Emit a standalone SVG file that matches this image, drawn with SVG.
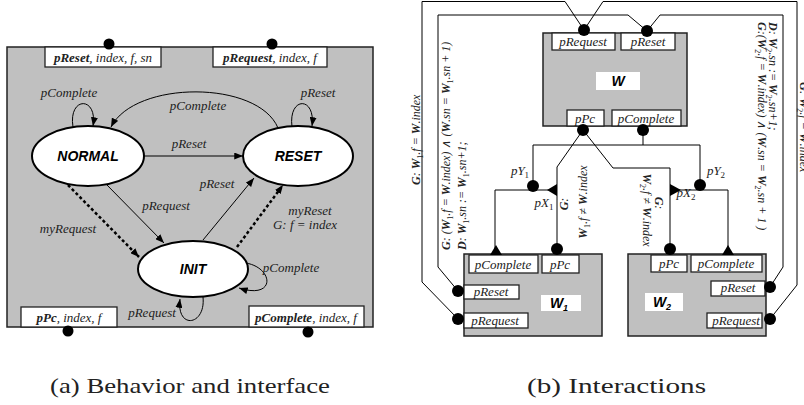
<svg xmlns="http://www.w3.org/2000/svg" width="804" height="405" viewBox="0 0 804 405">
<defs>
<marker id="arr" viewBox="0 0 10 8" refX="10" refY="4" markerWidth="9" markerHeight="7" orient="auto" markerUnits="userSpaceOnUse"><path d="M0,0 L10,4 L0,8 z" fill="#000"/></marker>
<style>
.t{font-family:"Liberation Serif","Times New Roman",serif;font-style:italic;font-size:13px;fill:#222}
.s{font-size:12px}
.b{font-weight:bold}
.nm{font-family:"Liberation Sans",Arial,sans-serif;font-style:italic;font-weight:bold;font-size:14px;fill:#000}
.cap{font-family:"Liberation Serif","Times New Roman",serif;font-size:22px;fill:#222}
.ln{fill:none;stroke:#000;stroke-width:1}
.dl{fill:none;stroke:#000;stroke-width:2.5;stroke-dasharray:3 2.5}
.gray{fill:#c0c0c0;stroke:#222;stroke-width:1.5}
.port{fill:#fff;stroke:#222;stroke-width:1.3}
.st{fill:#fff;stroke:#000;stroke-width:2}
.dot{fill:#000}
.wl{fill:#fff}
</style>
</defs>
<rect width="804" height="405" fill="#fff"/>

<!-- (a) Behavior and interface -->
<g id="behavior-frame"><rect class="gray" x="7" y="47" width="366" height="280"/></g>

<g id="port-preset-if">
<rect class="port" x="45" y="47" width="116" height="20"/>
<text class="t" x="103" y="62" text-anchor="middle"><tspan class="b">pReset</tspan>, index, f, sn</text>
<circle class="dot" cx="109" cy="44" r="5.5"/>
</g>
<g id="port-prequest-if">
<rect class="port" x="213" y="47" width="114" height="20"/>
<text class="t" x="270" y="62" text-anchor="middle"><tspan class="b">pRequest</tspan>, index, f</text>
<circle class="dot" cx="272" cy="44" r="5.5"/>
</g>
<g id="port-ppc-if">
<rect class="port" x="21" y="307" width="96" height="20"/>
<text class="t" x="69" y="322" text-anchor="middle"><tspan class="b">pPc</tspan>, index, f</text>
<circle class="dot" cx="68" cy="331" r="5.5"/>
</g>
<g id="port-pcomplete-if">
<rect class="port" x="249" y="306" width="115" height="21"/>
<text class="t" x="306" y="322" text-anchor="middle"><tspan class="b">pComplete</tspan>, index, f</text>
<circle class="dot" cx="308" cy="332" r="5.5"/>
</g>

<g id="state-normal"><ellipse class="st" cx="88" cy="156" rx="56" ry="30"/><text class="nm" x="88" y="161" text-anchor="middle">NORMAL</text></g>
<g id="state-reset"><ellipse class="st" cx="298" cy="156" rx="55" ry="30"/><text class="nm" x="298" y="161" text-anchor="middle">RESET</text></g>
<g id="state-init"><ellipse class="st" cx="193" cy="269" rx="55" ry="28"/><text class="nm" x="193" y="274" text-anchor="middle">INIT</text></g>

<g id="transitions">
<path class="ln" d="M73,127 C68,96 98,96 93,126" marker-end="url(#arr)"/>
<path class="ln" d="M278,128 C258,80 135,80 111,127" marker-end="url(#arr)"/>
<path class="ln" d="M292,127 C288,96 316,96 312,126" marker-end="url(#arr)"/>
<path class="ln" d="M144,156 L243,156" marker-end="url(#arr)"/>
<path class="ln" d="M106,184 L164,243" marker-end="url(#arr)"/>
<path class="dl" d="M68,185 L139,257" marker-end="url(#arr)"/>
<path class="ln" d="M203,240 L254,178" marker-end="url(#arr)"/>
<path class="dl" d="M237,247 L283,185" marker-end="url(#arr)"/>
<path class="ln" d="M246,263 C274,268 276,300 239,288" marker-end="url(#arr)"/>
<path class="ln" d="M203,297 C206,326 176,330 180,299" marker-end="url(#arr)"/>
<text class="t" x="69" y="97" text-anchor="middle">pComplete</text>
<text class="t" x="198" y="110" text-anchor="middle">pComplete</text>
<text class="t" x="318" y="97" text-anchor="middle">pReset</text>
<text class="t" x="189" y="148" text-anchor="middle">pReset</text>
<text class="t" x="166" y="210" text-anchor="middle">pRequest</text>
<text class="t" x="68" y="233" text-anchor="middle">myRequest</text>
<text class="t" x="217" y="188" text-anchor="middle">pReset</text>
<text class="t" x="310" y="215" text-anchor="middle">myReset</text>
<text class="t" x="305" y="229" text-anchor="middle">G: f = index</text>
<text class="t" x="291" y="272" text-anchor="middle">pComplete</text>
<text class="t" x="152" y="317" text-anchor="middle">pRequest</text>
</g>

<!-- (b) Interactions -->
<g id="node-W">
<rect class="gray" x="543" y="33" width="144" height="93"/>
<rect class="port" x="552" y="33" width="63" height="17"/>
<text class="t" x="583" y="46" text-anchor="middle">pRequest</text>
<rect class="port" x="621" y="33" width="54" height="17"/>
<text class="t" x="648" y="46" text-anchor="middle">pReset</text>
<rect class="wl" x="596" y="72" width="44" height="18"/>
<text class="nm" x="618" y="86" text-anchor="middle">W</text>
<rect class="port" x="567" y="110" width="37" height="16"/>
<text class="t" x="585" y="123" text-anchor="middle">pPc</text>
<rect class="port" x="612" y="110" width="69" height="16"/>
<text class="t" x="646" y="123" text-anchor="middle">pComplete</text>
<circle class="dot" cx="584" cy="30" r="6"/>
<circle class="dot" cx="647" cy="31" r="6"/>
<circle class="dot" cx="583" cy="130" r="6"/>
<circle class="dot" cx="643" cy="130" r="6"/>
</g>

<g id="node-W1">
<rect class="gray" x="464" y="254" width="138" height="82"/>
<rect class="port" x="469" y="255" width="69" height="18"/>
<text class="t" x="503" y="269" text-anchor="middle">pComplete</text>
<rect class="port" x="542" y="255" width="37" height="18"/>
<text class="t" x="560" y="269" text-anchor="middle">pPc</text>
<rect class="port" x="464" y="285" width="55" height="14"/>
<text class="t" x="491" y="296" text-anchor="middle">pReset</text>
<rect class="port" x="464" y="313" width="64" height="15"/>
<text class="t" x="495" y="325" text-anchor="middle">pRequest</text>
<rect class="wl" x="541" y="295" width="40" height="16"/>
<text class="nm" x="559" y="308" text-anchor="middle">W<tspan font-size="9" dy="3">1</tspan></text>
<circle class="dot" cx="458" cy="291" r="6"/>
<circle class="dot" cx="458" cy="319" r="6"/>
<circle class="dot" cx="557" cy="249" r="6"/>
<path class="dot" d="M490,255 L502,255 L496,245 z"/>
</g>

<g id="node-W2">
<rect class="gray" x="628" y="254" width="138" height="82"/>
<rect class="port" x="651" y="255" width="36" height="17"/>
<text class="t" x="669" y="268" text-anchor="middle">pPc</text>
<rect class="port" x="691" y="255" width="71" height="17"/>
<text class="t" x="726" y="268" text-anchor="middle">pComplete</text>
<rect class="port" x="711" y="281" width="54" height="15"/>
<text class="t" x="738" y="292" text-anchor="middle">pReset</text>
<rect class="port" x="707" y="313" width="55" height="15"/>
<text class="t" x="736" y="325" text-anchor="middle">pRequest</text>
<rect class="wl" x="645" y="293" width="38" height="18"/>
<text class="nm" x="662" y="307" text-anchor="middle">W<tspan font-size="9" dy="3">2</tspan></text>
<circle class="dot" cx="770" cy="287" r="6"/>
<circle class="dot" cx="770" cy="319" r="6"/>
<circle class="dot" cx="670" cy="249" r="6"/>
<path class="dot" d="M722,255 L734,255 L728,245 z"/>
</g>

<g id="junction-pY1"><circle class="dot" cx="533" cy="186" r="6"/><text class="t" x="520" y="175" text-anchor="middle">pY<tspan font-style="normal" font-size="9" dy="3">1</tspan></text></g>
<g id="junction-pX1"><path class="dot" d="M557,184 L557,196 L547,190 z"/><text class="t" x="544" y="207" text-anchor="middle">pX<tspan font-style="normal" font-size="9" dy="3">1</tspan></text></g>
<g id="junction-pY2"><circle class="dot" cx="700" cy="185" r="6"/><text class="t" x="716" y="175" text-anchor="middle">pY<tspan font-style="normal" font-size="9" dy="3">2</tspan></text></g>
<g id="junction-pX2"><path class="dot" d="M670,184 L670,196 L681,190 z"/><text class="t" x="686" y="197" text-anchor="middle">pX<tspan font-style="normal" font-size="9" dy="3">2</tspan></text></g>

<g id="connectors">
<path class="ln" d="M584,30 L565,1.5 L422,1.5 L422,282 L458,319"/>
<path class="ln" d="M647,31 L628,15 L438,15 L438,267 L458,291"/>
<path class="ln" d="M584,30 L603,1.5 L797,1.5 L797,285 L770,319"/>
<path class="ln" d="M647,31 L660,15 L783,15 L783,267 L770,287"/>
<path class="ln" d="M583,130 L557,167 L557,249"/>
<path class="ln" d="M583,130 L613,168 L670,168 L670,249"/>
<path class="ln" d="M643,130 L643,145"/>
<path class="ln" d="M533,186 L533,145 L700,145 L700,185"/>
<path class="ln" d="M557,190 L495,190 L495,250"/>
<path class="ln" d="M670,190 L728,190 L728,250"/>
<text class="t s" transform="translate(420,185) rotate(-90)"><tspan class="b">G</tspan>: <tspan class="b">W</tspan><tspan font-size="8" font-style="normal" dy="3">1</tspan><tspan dy="-3">.f = </tspan><tspan class="b">W</tspan>.index</text>
<text class="t s" transform="translate(450,250) rotate(-90)"><tspan class="b">G</tspan>:  (<tspan class="b">W</tspan><tspan font-size="8" font-style="normal" dy="3">1</tspan><tspan dy="-3">.f = </tspan><tspan class="b">W</tspan>.index) ∧ (<tspan class="b">W</tspan>.sn = <tspan class="b">W</tspan><tspan font-size="8" font-style="normal" dy="3">1</tspan><tspan dy="-3">.sn + 1)</tspan></text>
<text class="t s" transform="translate(466,250) rotate(-90)"><tspan class="b">D</tspan>: <tspan class="b">W</tspan><tspan font-size="8" font-style="normal" dy="3">1</tspan><tspan dy="-3">.sn := </tspan><tspan class="b">W</tspan><tspan font-size="8" font-style="normal" dy="3">1</tspan><tspan dy="-3">.sn+1;</tspan></text>
<text class="t s" transform="translate(568,204) rotate(-90)" text-anchor="middle"><tspan class="b">G</tspan>:</text>
<text class="t s" transform="translate(587,202) rotate(-90)" text-anchor="middle"><tspan class="b">W</tspan><tspan font-size="8" font-style="normal" dy="3">1</tspan><tspan dy="-3">.f ≠ </tspan><tspan class="b">W</tspan>.index</text>
<text class="t s" transform="translate(655,203) rotate(90)" text-anchor="middle"><tspan class="b">G</tspan>:</text>
<text class="t s" transform="translate(643,210) rotate(90)" text-anchor="middle"><tspan class="b">W</tspan><tspan font-size="8" font-style="normal" dy="3">2</tspan><tspan dy="-3">.f ≠ </tspan><tspan class="b">W</tspan>.index</text>
<text class="t s" transform="translate(758,22) rotate(90)"><tspan class="b">G</tspan>:(<tspan class="b">W</tspan><tspan font-size="8" font-style="normal" dy="3">2</tspan><tspan dy="-3">.f = </tspan><tspan class="b">W</tspan>.index) ∧ (<tspan class="b">W</tspan>.sn = <tspan class="b">W</tspan><tspan font-size="8" font-style="normal" dy="3">2</tspan><tspan dy="-3">.sn + 1 )</tspan></text>
<text class="t s" transform="translate(769,22) rotate(90)"><tspan class="b">D</tspan>: <tspan class="b">W</tspan><tspan font-size="8" font-style="normal" dy="3">2</tspan><tspan dy="-3">.sn := </tspan><tspan class="b">W</tspan><tspan font-size="8" font-style="normal" dy="3">2</tspan><tspan dy="-3">.sn+1;</tspan></text>
<text class="t s" transform="translate(800,82) rotate(90)"><tspan class="b">G</tspan>: <tspan class="b">W</tspan><tspan font-size="8" font-style="normal" dy="3">2</tspan><tspan dy="-3">.f = </tspan><tspan class="b">W</tspan>.index</text>
</g>

<text class="cap" x="50" y="393" textLength="280" lengthAdjust="spacingAndGlyphs">(a) Behavior and interface</text>
<text class="cap" x="527" y="393" textLength="179" lengthAdjust="spacingAndGlyphs">(b) Interactions</text>
</svg>
